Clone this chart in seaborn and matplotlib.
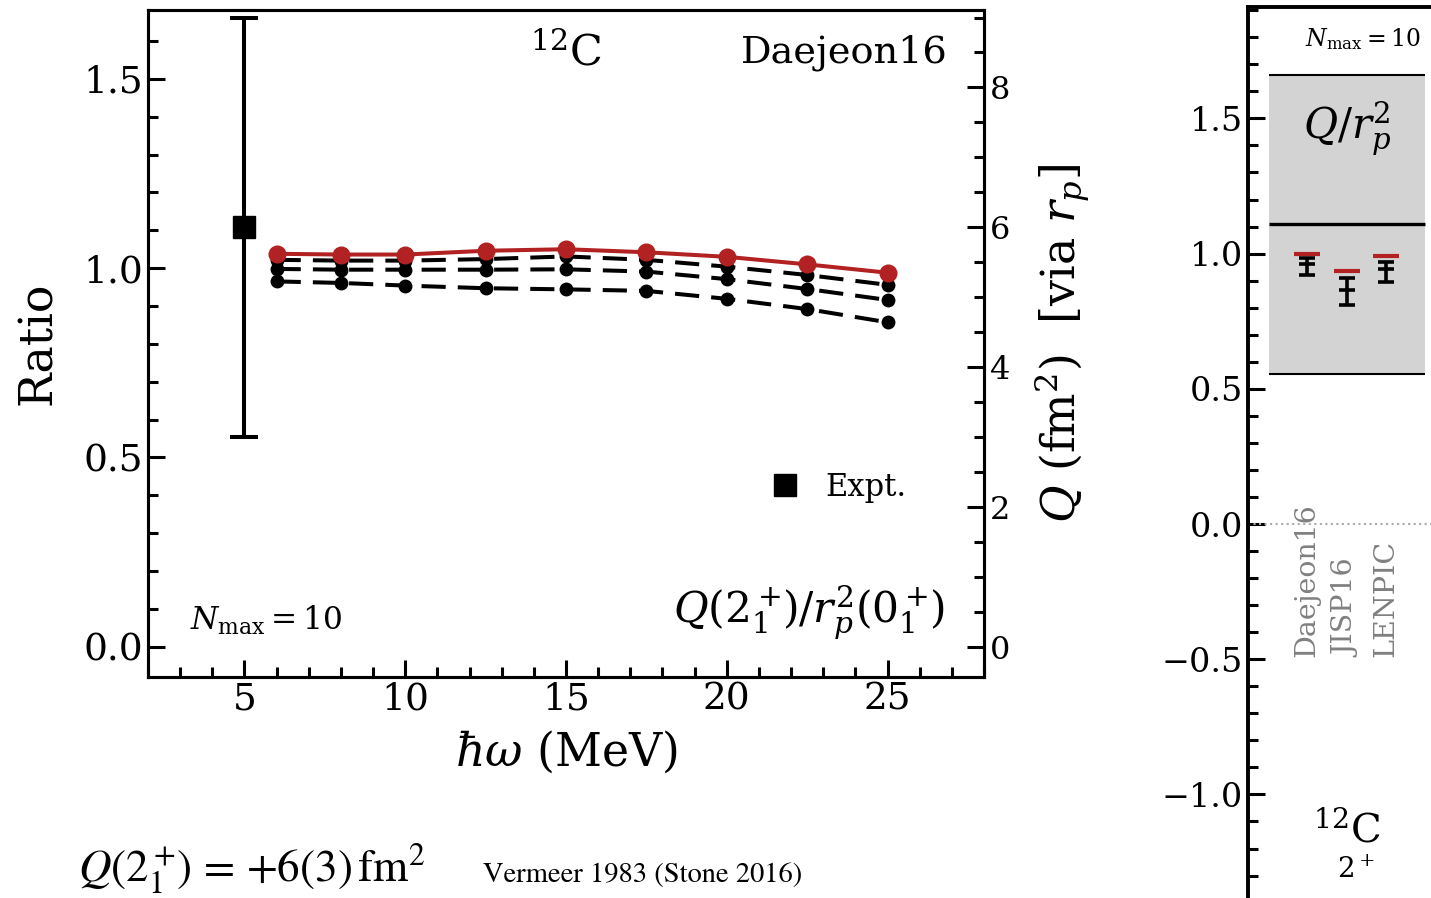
import numpy as np
import pandas as pd
import matplotlib
matplotlib.use("Agg")
import matplotlib.pyplot as plt
import seaborn as sns
from matplotlib.ticker import MultipleLocator
from matplotlib.lines import Line2D

# --- oscillator energies (MeV) and calculated Q/r_p^2 ratios for 12C ---
hw = [6, 8, 10, 12.5, 15, 17.5, 20, 22.5, 25]
ratio_nmax10 = [1.038, 1.036, 1.036, 1.046, 1.050, 1.042, 1.030, 1.010, 0.988]
ratio_nmax8 = [1.022, 1.020, 1.020, 1.024, 1.031, 1.022, 1.004, 0.982, 0.956]
ratio_nmax6 = [0.998, 0.996, 0.996, 0.996, 0.997, 0.991, 0.971, 0.945, 0.916]
ratio_nmax4 = [0.965, 0.961, 0.954, 0.947, 0.944, 0.940, 0.919, 0.892, 0.857]

# --- experiment ---
q_expt = 6.0       # fm^2
q_expt_err = 3.0   # fm^2
rp_expt = 2.327    # fm, also converts the ratio scale to a Q scale
hw_expt = 5.0

# --- summary panel: Nmax = 10 ratios and estimates per interaction ---
interactions = ["Daejeon16", "JISP16", "LENPIC"]
summary_nmax10 = [0.998, 0.937, 0.991]
summary_est = [0.962, 0.865, 0.942]
summary_est_lo = [0.921, 0.810, 0.896]
summary_est_hi = [0.984, 0.909, 0.970]

red = "#b22222"

sns.set_style("ticks")
plt.rcParams["font.family"] = ["DejaVu Serif"]
plt.rcParams["mathtext.fontset"] = "dejavuserif"
plt.rcParams["axes.linewidth"] = 2.2
for key in ("text.color", "axes.labelcolor", "xtick.color", "ytick.color",
            "axes.edgecolor"):
    plt.rcParams[key] = "black"

W, H = 1431, 898
fig = plt.figure(figsize=(W / 100, H / 100), dpi=100)
ax = fig.add_axes([148 / W, (H - 677) / H, 836 / W, 667 / H])
axr = fig.add_axes([1248 / W, 0, 223 / W, (H - 7) / H])

# ---------------- main panel ----------------
curves = pd.DataFrame({
    "hw": hw * 4,
    "ratio": ratio_nmax4 + ratio_nmax6 + ratio_nmax8 + ratio_nmax10,
    "nmax": [4] * 9 + [6] * 9 + [8] * 9 + [10] * 9,
})
for nmax in (4, 6, 8):
    sub = curves[curves["nmax"] == nmax]
    sns.lineplot(data=sub, x="hw", y="ratio", ax=ax, color="black",
                 linewidth=2.9, marker="o", markersize=10,
                 markeredgewidth=0, markeredgecolor="black",
                 legend=False)
    ax.lines[-1].set_dashes((6, 3))
sub = curves[curves["nmax"] == 10]
sns.lineplot(data=sub, x="hw", y="ratio", ax=ax, color=red, linewidth=2.9,
             marker="o", markersize=13, markeredgewidth=0,
             markeredgecolor=red, legend=False, zorder=5)

ratio_expt = q_expt / rp_expt ** 2
ratio_expt_err = q_expt_err / rp_expt ** 2
ax.errorbar([hw_expt], [ratio_expt], yerr=[ratio_expt_err], fmt="s",
            color="black", markersize=16, elinewidth=2.9, capsize=10,
            capthick=2.9)

ax.set_xlim(2, 28)
ax.set_ylim(-0.08, 1.682)
ax.xaxis.set_major_locator(MultipleLocator(5))
ax.xaxis.set_minor_locator(MultipleLocator(1))
ax.yaxis.set_major_locator(MultipleLocator(0.5))
ax.yaxis.set_minor_locator(MultipleLocator(0.1))
ax.tick_params(which="both", direction="in", width=2.2, labelsize=27,
               top=False, right=False)
ax.tick_params(which="major", length=12)
ax.tick_params(which="minor", length=7)
ax.set_xlabel(r"$\hbar\omega$ (MeV)", fontsize=33, labelpad=8)
ax.set_ylabel("Ratio", fontsize=33, labelpad=16)

ax2 = ax.twinx()
lo, hi = ax.get_ylim()
ax2.set_ylim(lo * rp_expt ** 2, hi * rp_expt ** 2)
ax2.yaxis.set_major_locator(MultipleLocator(2))
ax2.yaxis.set_minor_locator(MultipleLocator(0.5))
ax2.tick_params(which="both", direction="in", width=2.2, labelsize=23, pad=4)
ax2.tick_params(which="major", length=12)
ax2.tick_params(which="minor", length=7)
ax2.set_ylabel(r"$Q\ (\mathrm{fm}^2)$  [via $r_p$]", fontsize=33, labelpad=16)
ax2.grid(False)

ax.text(0.5, 0.967, r"$^{12}\mathrm{C}$", transform=ax.transAxes,
        ha="center", va="top", fontsize=31)
ax.text(0.957, 0.963, "Daejeon16", transform=ax.transAxes,
        ha="right", va="top", fontsize=27.5)
ax.text(0.05, 0.07, r"$N_{\mathrm{max}} = 10$", transform=ax.transAxes,
        ha="left", va="baseline", fontsize=22.5)
ax.text(0.953, 0.081, r"$Q(2^+_1\!)/r_p^2(0^+_1\!)$", transform=ax.transAxes,
        ha="right", va="baseline", fontsize=30.5)

handle = Line2D([], [], marker="s", color="black", linestyle="none",
                markersize=16)
ax.legend([handle], ["Expt."], loc="center left",
          bbox_to_anchor=(0.744, 0.284), frameon=False, fontsize=22,
          handlelength=1.0, handletextpad=0.8, borderpad=0,
          borderaxespad=0)

fig.text(78 / W, 1 - 882 / H, r"$Q(2^+_1\!)\,=\,{+}6(3)\,\mathrm{fm}^2$",
         fontsize=32.5, math_fontfamily="stix", ha="left", va="baseline")
fig.text(483 / W, 1 - 882 / H, "Vermeer 1983 (Stone 2016)",
         fontsize=20.5, family="STIXGeneral", ha="left", va="baseline")

# ---------------- summary panel ----------------
xpos = np.arange(len(interactions))
band_lo = ratio_expt - ratio_expt_err
band_hi = ratio_expt + ratio_expt_err
bx = [-0.96, 2.99]
axr.fill_between(bx, [band_lo] * 2, [band_hi] * 2, color="lightgray",
                 linewidth=0, zorder=1)
axr.hlines([band_lo, band_hi], bx[0], bx[1], color="black", linewidth=1.5,
           zorder=2)
axr.hlines([ratio_expt], bx[0], bx[1], color="black", linewidth=2.4,
           zorder=2)
axr.axhline(0, color="#aaaaaa", linestyle=":", linewidth=1.5, zorder=1)

est = np.array(summary_est)
yerr = [est - np.array(summary_est_lo), np.array(summary_est_hi) - est]
axr.errorbar(xpos, est, yerr=yerr, fmt="_", color="black", markersize=12,
             markeredgewidth=2.6, elinewidth=2.6, capsize=6, capthick=2.6,
             zorder=3)
sns.scatterplot(x=xpos, y=summary_nmax10, ax=axr, marker="_", s=330,
                color=red, linewidth=3, zorder=4, legend=False)

for x, name in zip(xpos, interactions):
    axr.text(x, -0.492, name, rotation=90, ha="center", va="bottom",
             color="#808080", fontsize=20.5)

axr.text(2.88, 1.795, r"$N_{\mathrm{max}} = 10$", ha="right",
         va="center", fontsize=17)
axr.text(1.0, 1.46, r"$Q/r_p^2$", ha="center", va="center", fontsize=30)
axr.text(1.0, -1.13, r"$^{12}\mathrm{C}$", ha="center", va="center",
         fontsize=29)
axr.text(1.25, -1.28, r"$2^+$", ha="center", va="center", fontsize=20)

axr.set_xlim(-1.494, 4.15)
axr.set_ylim(-1.383, 1.912)
axr.set_xticks([])
axr.yaxis.set_major_locator(MultipleLocator(0.5))
axr.yaxis.set_minor_locator(MultipleLocator(0.1))
axr.tick_params(which="both", direction="in", width=2.2, labelsize=24)
axr.tick_params(which="major", length=12)
axr.tick_params(which="minor", length=7)
axr.spines["bottom"].set_visible(False)
axr.spines["right"].set_visible(False)
axr.spines["left"].set_linewidth(2.8)
axr.spines["top"].set_linewidth(2.8)
axr.set_xlabel("")
axr.set_ylabel("")

fig.savefig("out.png", dpi=100)
